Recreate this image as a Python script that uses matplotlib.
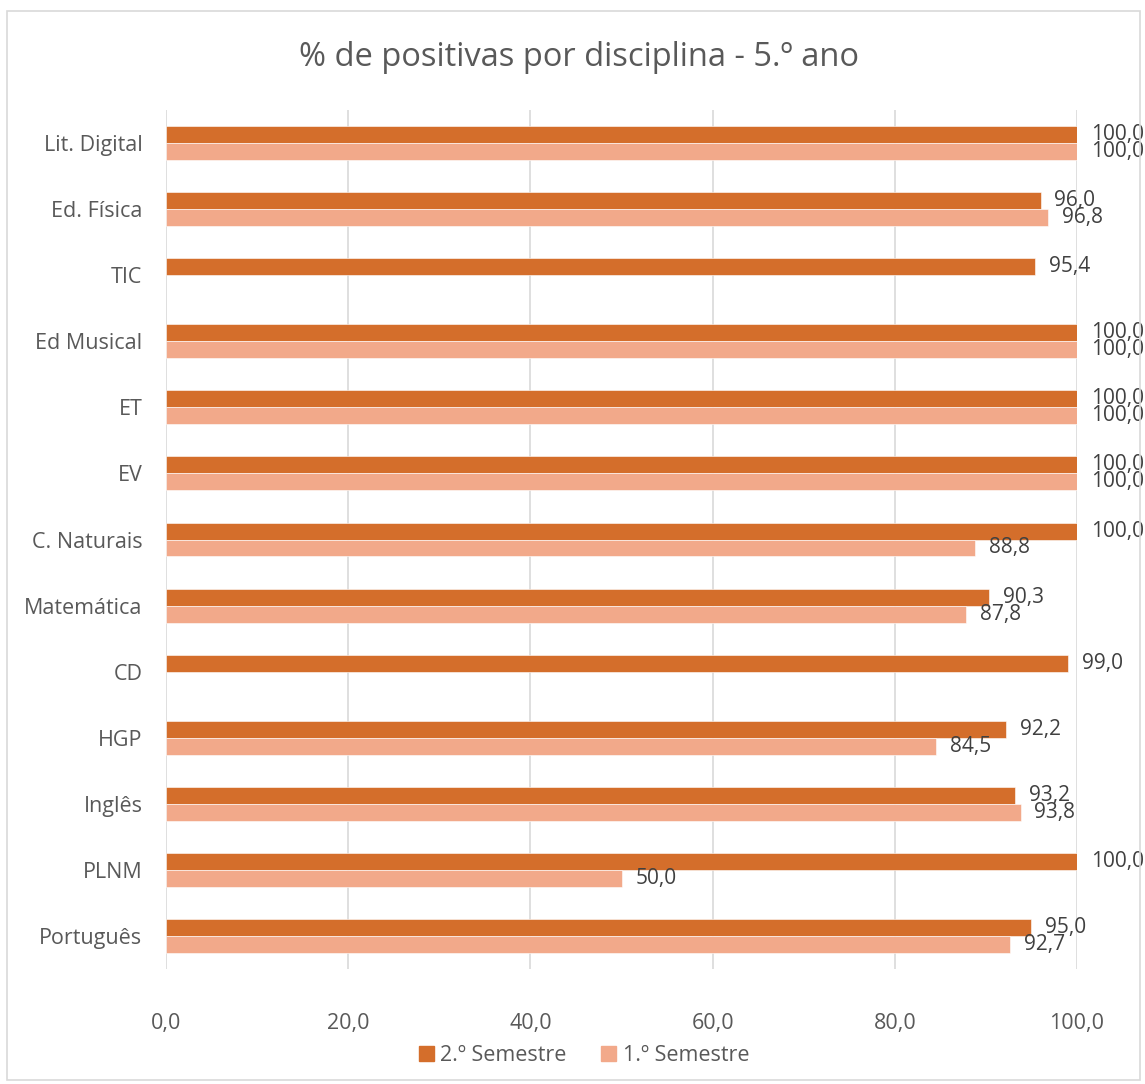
import numpy as np
import matplotlib.pyplot as plt
from matplotlib.patches import Rectangle, Patch

# --- data (bottom to top) ---
disciplinas = ["Português", "PLNM", "Inglês", "HGP", "CD", "Matemática",
               "C. Naturais", "EV", "ET", "Ed Musical", "TIC", "Ed. Física",
               "Lit. Digital"]
sem2 = [95.0, 100.0, 93.2, 92.2, 99.0, 90.3, 100.0, 100.0, 100.0, 100.0, 95.4, 96.0, 100.0]
sem1 = [92.7, 50.0, 93.8, 84.5, np.nan, 87.8, 88.8, 100.0, 100.0, 100.0, np.nan, 96.8, 100.0]
xticks = [0, 20, 40, 60, 80, 100]

DARK = "#D46E2B"
LIGHT = "#F2A98A"
TXT = "#595959"
GRID = "#D9D9D9"
FS = 15.5

plt.rcParams["font.family"] = ["Open Sans", "DejaVu Sans"]

fig = plt.figure(figsize=(11.45, 10.84), dpi=100)
ax = fig.add_axes([0.145, 0.1061, 0.7956, 0.7924])

y = np.arange(len(disciplinas))
h = 0.257
ax.barh(y + h / 2, sem2, height=h, color=DARK, edgecolor="white", linewidth=0.4)
ax.barh(y - h / 2, sem1, height=h, color=LIGHT, edgecolor="white", linewidth=0.4)

# value labels (they overlap at 100,0 in the original too)
fmt = lambda v: f"{v:.1f}".replace(".", ",")
for yy, v in zip(y + h / 2, sem2):
    if not np.isnan(v):
        ax.annotate(fmt(v), (v, yy), xytext=(10, 0), textcoords="offset points",
                    va="center", ha="left", fontsize=15, color="#404040",
                    annotation_clip=False)
for yy, v in zip(y - h / 2, sem1):
    if not np.isnan(v):
        ax.annotate(fmt(v), (v, yy), xytext=(10, 0), textcoords="offset points",
                    va="center", ha="left", fontsize=15, color="#404040",
                    annotation_clip=False)

ax.set_xlim(0, 100)
ax.set_ylim(-0.5, len(disciplinas) - 0.5)
ax.set_yticks(y)
ax.set_yticklabels(disciplinas)
ax.set_xticks(xticks)
ax.set_xticklabels([fmt(t) for t in xticks])
ax.tick_params(axis="both", length=0, labelsize=FS, labelcolor=TXT)
ax.tick_params(axis="x", pad=32)
ax.tick_params(axis="y", pad=17)
ax.grid(axis="x", color=GRID, linewidth=1.2)
ax.set_axisbelow(True)
for s in ax.spines.values():
    s.set_visible(False)

fig.text(0.506, 0.947, "% de positivas por disciplina - 5.º ano", ha="center",
         va="center", fontsize=23.5, color=TXT)

handles = [Patch(color=DARK, label="2.º Semestre"), Patch(color=LIGHT, label="1.º Semestre")]
fig.legend(handles=handles, loc="center", bbox_to_anchor=(0.51, 0.026), ncol=2,
           frameon=False, fontsize=FS, labelcolor=TXT, handlelength=0.7,
           handleheight=0.7, handletextpad=0.3, columnspacing=1.6)

fig.patches.append(Rectangle((7 / 1145, 4 / 1084), 1133 / 1145, 1069 / 1084,
                             transform=fig.transFigure, fill=False,
                             edgecolor=GRID, linewidth=1.2))

fig.savefig("out.png", dpi=100)
